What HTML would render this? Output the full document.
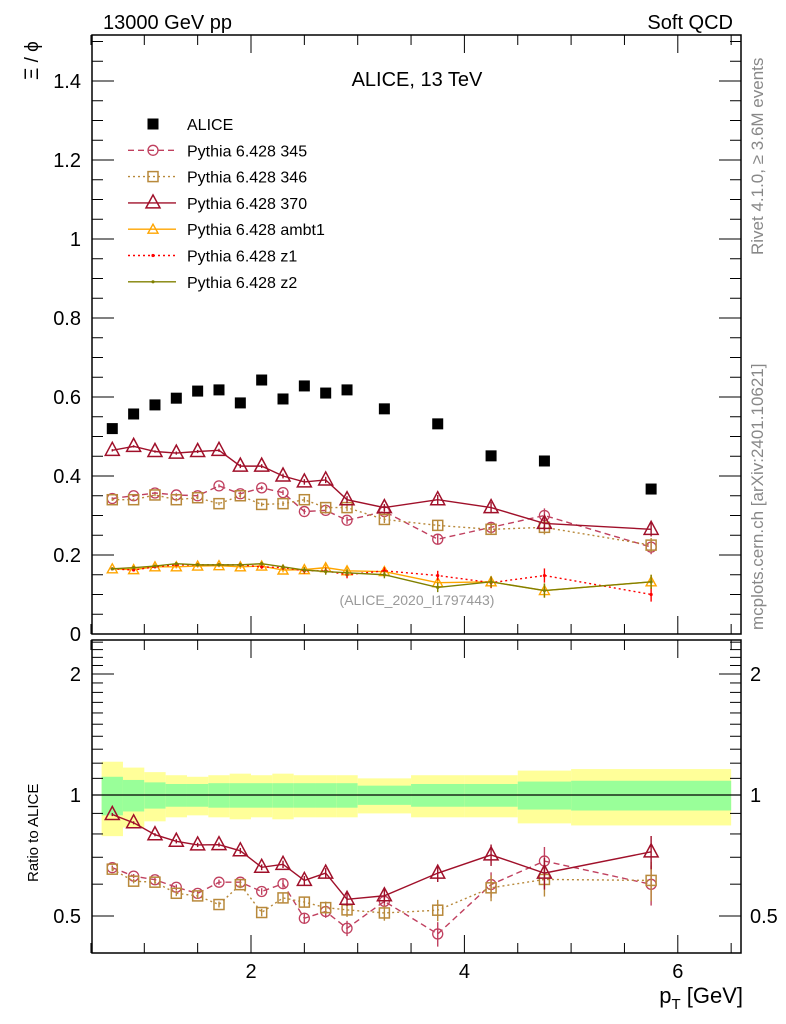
<!DOCTYPE html>
<html><head><meta charset="utf-8"><style>
html,body{margin:0;padding:0;background:#fff}
svg{display:block;font-family:"Liberation Sans",sans-serif}
</style></head><body>
<svg id="chart" width="786" height="1024" viewBox="0 0 786 1024" xmlns="http://www.w3.org/2000/svg">
<text x="103" y="29" font-size="20">13000 GeV pp</text>
<text x="733" y="29" font-size="20" text-anchor="end">Soft QCD</text>
<text x="417" y="86" font-size="20" text-anchor="middle">ALICE, 13 TeV</text>
<text transform="translate(763,255) rotate(-90)" font-size="17" fill="#888">Rivet 4.1.0, ≥ 3.6M events</text>
<text transform="translate(763,630) rotate(-90)" font-size="17" fill="#888">mcplots.cern.ch [arXiv:2401.10621]</text>
<text transform="translate(38,80) rotate(-90)" font-size="19">Ξ / ϕ</text>
<text transform="translate(38,882) rotate(-90)" font-size="15">Ratio to ALICE</text>
<text x="743" y="1003" font-size="22" text-anchor="end">p<tspan font-size="15" dy="6">T</tspan><tspan dy="-6"> [GeV]</tspan></text>
<text x="417" y="605" font-size="14" fill="#999" text-anchor="middle">(ALICE_2020_I1797443)</text>
<g id="g"></g>
</svg>
<script>
const xc=[0.7,0.9,1.1,1.3,1.5,1.7,1.9,2.1,2.3,2.5,2.7,2.9,3.25,3.75,4.25,4.75,5.75];
const binLo=[0.6,0.8,1.0,1.2,1.4,1.6,1.8,2.0,2.2,2.4,2.6,2.8,3.0,3.5,4.0,4.5,5.0];
const binHi=[0.8,1.0,1.2,1.4,1.6,1.8,2.0,2.2,2.4,2.6,2.8,3.0,3.5,4.0,4.5,5.0,6.5];
const alice=[0.52,0.557,0.58,0.597,0.615,0.618,0.585,0.643,0.595,0.628,0.61,0.618,0.57,0.532,0.451,0.438,0.367];
const p345=[0.343,0.35,0.357,0.352,0.35,0.375,0.355,0.37,0.358,0.31,0.313,0.288,0.31,0.24,0.27,0.30,0.22];
const p346=[0.34,0.34,0.352,0.34,0.345,0.33,0.35,0.328,0.33,0.34,0.32,0.32,0.29,0.275,0.265,0.27,0.225];
const p370=[0.465,0.475,0.462,0.458,0.462,0.465,0.425,0.425,0.40,0.385,0.39,0.34,0.32,0.34,0.32,0.28,0.265];
const ambt1=[0.165,0.163,0.17,0.17,0.172,0.173,0.17,0.172,0.162,0.163,0.168,0.16,0.158,0.13,0.132,0.11,0.132];
const z1=[0.165,0.162,0.17,0.175,0.175,0.175,0.175,0.17,0.168,0.16,0.16,0.15,0.16,0.148,0.13,0.148,0.10];
const z2=[0.165,0.168,0.172,0.178,0.175,0.175,0.175,0.178,0.17,0.162,0.158,0.155,0.15,0.118,0.132,0.11,0.132];
const mcErr=[0.003,0.003,0.003,0.004,0.004,0.004,0.005,0.005,0.006,0.007,0.008,0.009,0.009,0.012,0.014,0.018,0.018];
const yellowErr=[0.21,0.17,0.14,0.12,0.11,0.12,0.13,0.12,0.13,0.12,0.12,0.12,0.10,0.12,0.12,0.15,0.16];
const greenErr=[0.11,0.09,0.075,0.065,0.065,0.07,0.07,0.07,0.07,0.07,0.07,0.07,0.055,0.065,0.065,0.08,0.085];
const mainYTicks=[0,0.2,0.4,0.6,0.8,1,1.2,1.4];
const mainYLabels=["0","0.2","0.4","0.6","0.8","1","1.2","1.4"];
const xTickLabels=["2","4","6"];
const xTickVals=[2,4,6];

const NS="http://www.w3.org/2000/svg";
const G=document.getElementById('g');
const L=92,R=741,MT=35,MB=634,RT=640,RB=953;
const X=v=>251+(v-2)*106.7;
const Y=v=>634-v*395;
const RY=r=>795-121*Math.log2(r);
function mk(t,a,p){const e=document.createElementNS(NS,t);for(const k in a)e.setAttribute(k,a[k]);(p||G).appendChild(e);return e;}

for(let i=0;i<binLo.length;i++){
 const y=mk('rect',{x:X(binLo[i]),y:RY(1+yellowErr[i]),width:X(binHi[i])-X(binLo[i]),height:RY(1-yellowErr[i])-RY(1+yellowErr[i]),fill:'#ffff99'});
 
 
 const g=mk('rect',{x:X(binLo[i]),y:RY(1+greenErr[i]),width:X(binHi[i])-X(binLo[i]),height:RY(1-greenErr[i])-RY(1+greenErr[i]),fill:'#99ff99'});
 
 
}
const one=mk('line',{x1:L,x2:R,y1:RY(1),y2:RY(1),stroke:'#000','stroke-width':1.3});



for(const [t,b,n] of [[MT,MB,'main-frame'],[RT,RB,'ratio-frame']]){
 const f=mk('rect',{x:L,y:t,width:R-L,height:b-t,fill:'none',stroke:'#000','stroke-width':1.5});
 
 
}
for(let v=0;v<=1.5001;v+=0.05){
 const maj=Math.abs(v/0.2-Math.round(v/0.2))<1e-6;const len=maj?22:11;
 mk('line',{x1:L,x2:L+len,y1:Y(v),y2:Y(v),stroke:'#000','stroke-width':1});
 mk('line',{x1:R,x2:R-len,y1:Y(v),y2:Y(v),stroke:'#000','stroke-width':1});
}
mainYTicks.forEach((v,i)=>{const t=mk('text',{x:81,y:Y(v)+7,'font-size':20,'text-anchor':'end'});t.textContent=mainYLabels[i];
 
 });
for(let v=0.5;v<=6.51;v+=0.5){
 const maj=Math.abs(v%2)<1e-6;const len=maj?18:10;
 for(const [t,b] of [[MT,MB],[RT,RB]]){
  mk('line',{x1:X(v),x2:X(v),y1:b,y2:b-len,stroke:'#000','stroke-width':1});
  mk('line',{x1:X(v),x2:X(v),y1:t,y2:t+len,stroke:'#000','stroke-width':1});
 }
}
xTickVals.forEach((v,i)=>{const t=mk('text',{x:X(v),y:978,'font-size':20,'text-anchor':'middle'});t.textContent=xTickLabels[i];
 
 });
const rt=[0.4,0.5,0.6,0.7,0.8,0.9,1,1.1,1.2,1.3,1.4,1.5,1.6,1.7,1.8,1.9,2,2.1,2.2,2.3,2.4];
rt.forEach(r=>{const y=RY(r);if(y<RT||y>RB)return;const maj=(r==0.5||r==1||r==2);const len=maj?22:11;
 mk('line',{x1:L,x2:L+len,y1:y,y2:y,stroke:'#000','stroke-width':1});
 mk('line',{x1:R,x2:R-len,y1:y,y2:y,stroke:'#000','stroke-width':1});});
[[2,'2'],[1,'1'],[0.5,'0.5']].forEach(([r,s])=>{
 const a=mk('text',{x:81,y:RY(r)+7,'font-size':20,'text-anchor':'end'});a.textContent=s;
 
 
 const b=mk('text',{x:750,y:RY(r)+7,'font-size':20});b.textContent=s;
 
 });

function marker(type,x,y,c,p){
 if(type==='sq')return mk('rect',{x:x-5.5,y:y-5.5,width:11,height:11,fill:'#000'},p);
 if(type==='circ')return mk('circle',{cx:x,cy:y,r:5,fill:'none',stroke:c,'stroke-width':1.3},p);
 if(type==='osq')return mk('rect',{x:x-5,y:y-5,width:10,height:10,fill:'none',stroke:c,'stroke-width':1.5},p);
 if(type==='tri')return mk('polygon',{points:`${x-7},${y+5} ${x+7},${y+5} ${x},${y-8}`,fill:'none',stroke:c,'stroke-width':1.5},p);
 if(type==='stri')return mk('polygon',{points:`${x-5},${y+4} ${x+5},${y+4} ${x},${y-5}`,fill:'none',stroke:c,'stroke-width':1.4},p);
 if(type==='dot')return mk('circle',{cx:x,cy:y,r:1.6,fill:c},p);
}
const series=[
 {n:'pythia-345',d:p345,c:'#c0405f',dash:'6,4',m:'circ',ratio:true},
 {n:'pythia-346',d:p346,c:'#b8893b',dash:'2,3',m:'osq',ratio:true},
 {n:'pythia-370',d:p370,c:'#a0102a',dash:'',m:'tri',ratio:true},
 {n:'pythia-ambt1',d:ambt1,c:'#ffa500',dash:'',m:'stri',ratio:false},
 {n:'pythia-z1',d:z1,c:'#ff0000',dash:'2,3',m:'dot',ratio:false},
 {n:'pythia-z2',d:z2,c:'#808000',dash:'',m:'dot',ratio:false}];
series.forEach(s=>{
 const g=mk('g',{});
 
 
 mk('polyline',{points:xc.map((x,i)=>X(x)+','+Y(s.d[i])).join(' '),fill:'none',stroke:s.c,'stroke-width':1.4,'stroke-dasharray':s.dash},g);
 xc.forEach((x,i)=>{
  mk('line',{x1:X(x),x2:X(x),y1:Y(s.d[i]+mcErr[i]),y2:Y(s.d[i]-mcErr[i]),stroke:s.c,'stroke-width':1.4},g);
  const m=marker(s.m,X(x),Y(s.d[i]),s.c,g);
  
  
 });
 if(s.ratio){
  const rg=mk('g',{});
  
  
  mk('polyline',{points:xc.map((x,i)=>X(x)+','+RY(s.d[i]/alice[i])).join(' '),fill:'none',stroke:s.c,'stroke-width':1.4,'stroke-dasharray':s.dash},rg);
  xc.forEach((x,i)=>{
   const r=s.d[i]/alice[i],e=mcErr[i]/alice[i]*1.4;
   mk('line',{x1:X(x),x2:X(x),y1:RY(r+e),y2:RY(Math.max(r-e,0.3)),stroke:s.c,'stroke-width':1.4},rg);
   const m=marker(s.m,X(x),RY(r),s.c,rg);
   
   
  });
 }
});
const ag=mk('g',{});


xc.forEach((x,i)=>{const m=marker('sq',X(x),Y(alice[i]),'#000',ag);
 
 });

const leg=[['ALICE','sq','#000',null],['Pythia 6.428 345','circ','#c0405f','6,4'],['Pythia 6.428 346','osq','#b8893b','2,3'],
 ['Pythia 6.428 370','tri','#a0102a',''],['Pythia 6.428 ambt1','stri','#ffa500',''],['Pythia 6.428 z1','dot','#ff0000','2,3'],['Pythia 6.428 z2','dot','#808000','']];
leg.forEach((l,i)=>{
 const y=124+i*26.3;const g=mk('g',{});
 
 
 if(l[3]!==null)mk('line',{x1:128,x2:176,y1:y,y2:y,stroke:l[2],'stroke-width':1.4,'stroke-dasharray':l[3]},g);
 marker(l[1],153,y,l[2],g);
 const t=mk('text',{x:187,y:y+6,'font-size':16},g);t.textContent=l[0];
});
</script>
</body></html>
